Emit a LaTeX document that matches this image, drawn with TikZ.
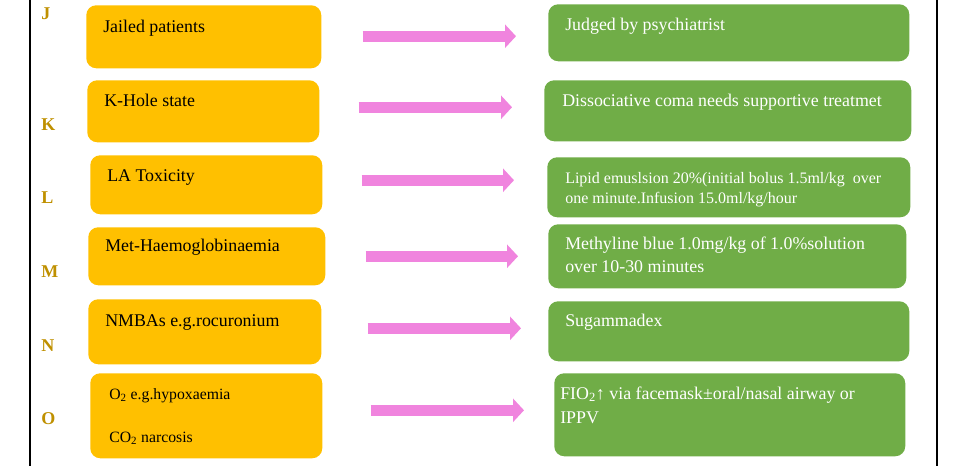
\documentclass[tikz,border=0pt]{standalone}
\usepackage{fontspec}
\setmainfont{Liberation Serif}
\usetikzlibrary{arrows.meta}
\definecolor{boxorange}{HTML}{FFC000}
\definecolor{boxgreen}{HTML}{70AD47}
\definecolor{arrowpink}{HTML}{F084DE}
\definecolor{lettergold}{HTML}{BF9000}
\begin{document}
\begin{tikzpicture}[x=0.75pt,y=-0.75pt,
  obox/.style={fill=boxorange,rounded corners=7.5pt,anchor=north west,inner sep=0pt},
  gbox/.style={fill=boxgreen,rounded corners=7.5pt,anchor=north west,inner sep=0pt},
  otext/.style={anchor=base west,inner sep=0pt,font=\fontsize{13.4}{18}\selectfont},
  gtext/.style={otext,text=white,align=left},
  letter/.style={anchor=base west,inner sep=0pt,text=lettergold,font=\fontsize{13.5}{15}\selectfont\bfseries},
  pinkarrow/.style={draw=arrowpink,line width=8.25pt,-{Triangle[width=17.25pt,length=8.25pt]}}]
  \useasboundingbox (0,0) rectangle (967,466);
  \draw[thick] (30,0) -- (30,466);
  \draw[thick] (937,0) -- (937,466);

  % row letters
  \node[letter] (lJ) at (41,20)  {J};
  \node[letter] (lK) at (41,131) {K};
  \node[letter] (lL) at (41,204) {L};
  \node[letter] (lM) at (41,278) {M};
  \node[letter] (lN) at (41,352) {N};
  \node[letter] (lO) at (41,424) {O};

  % left column
  \node[obox,minimum width=235*0.75pt,minimum height=63*0.75pt] (o1) at (86,5)   {};
  \node[obox,minimum width=232*0.75pt,minimum height=62*0.75pt] (o2) at (87,80)  {};
  \node[obox,minimum width=232*0.75pt,minimum height=59*0.75pt] (o3) at (90,155) {};
  \node[obox,minimum width=237*0.75pt,minimum height=58*0.75pt] (o4) at (88,227) {};
  \node[obox,minimum width=233*0.75pt,minimum height=65*0.75pt] (o5) at (88,299) {};
  \node[obox,minimum width=232*0.75pt,minimum height=85*0.75pt] (o6) at (90,373) {};

  \node[otext] (t1) at (103,33)  {Jailed patients};
  \node[otext] (t2) at (104,107) {K-Hole state};
  \node[otext] (t3) at (107,182) {LA Toxicity};
  \node[otext] (t4) at (105,252) {Met-Haemoglobinaemia};
  \node[otext] (t5) at (105,327) {NMBAs e.g.rocuronium};
  \node[otext,font=\fontsize{11.8}{13}\selectfont] (t6a) at (109,399) {O\textsubscript{2} e.g.hypoxaemia};
  \node[otext,font=\fontsize{11.8}{13}\selectfont] (t6b) at (109,442) {CO\textsubscript{2} narcosis};

  % right column
  \node[gbox,minimum width=361*0.75pt,minimum height=57*0.75pt] (g1) at (548,4)   {};
  \node[gbox,minimum width=367*0.75pt,minimum height=61*0.75pt] (g2) at (544,80)  {};
  \node[gbox,minimum width=363*0.75pt,minimum height=60*0.75pt] (g3) at (547,157) {};
  \node[gbox,minimum width=358*0.75pt,minimum height=64*0.75pt] (g4) at (548,224) {};
  \node[gbox,minimum width=361*0.75pt,minimum height=60*0.75pt] (g5) at (548,301) {};
  \node[gbox,minimum width=351*0.75pt,minimum height=83*0.75pt] (g6) at (554,373) {};

  \node[gtext] (u1) at (565,31)  {Judged by psychiatrist};
  \node[gtext] (u2) at (562,107) {Dissociative coma needs supportive treatmet};
  \node[gtext,font=\fontsize{12}{15}\selectfont] (u3) at (565,204)
    {Lipid emuslsion 20\%(initial bolus 1.5ml/kg\ \ over\\one minute.Infusion 15.0ml/kg/hour};
  \node[gtext,font=\fontsize{13.4}{17.25}\selectfont] (u4) at (565,273)
    {Methyline blue 1.0mg/kg of 1.0\%solution\\over 10-30 minutes};
  \node[gtext] (u5) at (565,327) {Sugammadex};
  \node[gtext,font=\fontsize{13.4}{18}\selectfont] (u6) at (560,423)
    {FIO\textsubscript{2}↑ via facemask±oral/nasal airway or\\IPPV};

  % arrows
  \foreach \i/\a/\b/\dy in {1/41/32/0.4, 2/39/32/3, 3/39/33/3.4, 4/40/30/0, 5/46/27/2.6, 6/48/30/4.1}
    \draw[pinkarrow,shorten <=\a*0.75pt,shorten >=\b*0.75pt]
      ([yshift=\dy pt]o\i.east) -- ([yshift=\dy pt]o\i.east -| g\i.west);
\end{tikzpicture}
\end{document}
